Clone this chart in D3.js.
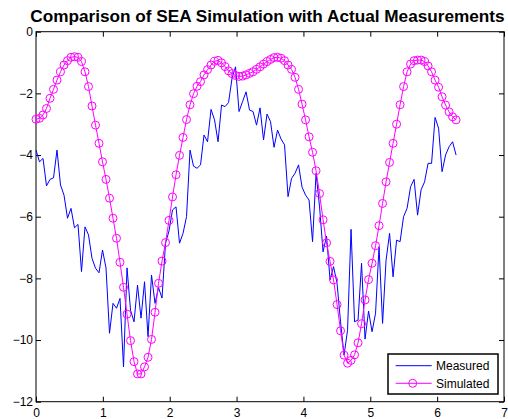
<!DOCTYPE html>
<html>
<head>
<meta charset="utf-8">
<script src="https://cdn.jsdelivr.net/npm/d3@7"></script>
<style>
  html, body { margin: 0; padding: 0; background: #ffffff; }
  svg { display: block; font-family: "Liberation Sans", Arial, Helvetica, sans-serif; }
</style>
</head>
<body>
<svg id="chart" width="508" height="419"></svg>
<script>
// Chart text
const chartTitle = "Comparison of SEA Simulation with Actual Measurements";
const seriesNames = ["Measured", "Simulated"];

// Axis ticks
const xTicks = [0, 1, 2, 3, 4, 5, 6, 7];
const yTicks = [-12, -10, -8, -6, -4, -2, 0];

// Measured response, 121 samples over one full turn (0 .. 2π)
const measured = [
  -3.84, -4.22, -4.11, -5.00, -4.79, -4.74, -3.84, -4.97, -5.30, -6.05,
  -5.73, -6.36, -6.25, -7.78, -6.33, -6.59, -7.35, -7.67, -7.82, -7.08,
  -7.66, -9.78, -8.81, -8.97, -8.65, -10.87, -7.66, -9.03, -9.41, -8.22,
  -9.29, -8.11, -9.89, -7.89, -8.81, -8.30, -8.64, -6.86, -6.46, -5.78,
  -5.68, -6.86, -6.54, -6.00, -3.84, -4.36, -4.43, -4.32, -3.35, -3.57,
  -2.52, -2.86, -3.57, -2.38, -2.43, -2.30, -1.51, -1.14, -2.59, -2.27,
  -1.95, -2.54, -2.59, -3.03, -2.47, -3.51, -2.67, -2.92, -3.75, -3.19,
  -3.48, -3.67, -5.35, -4.76, -4.59, -4.32, -5.04, -5.30, -5.46, -6.81,
  -4.59, -5.68, -7.14, -6.63, -8.05, -7.62, -8.16, -9.41, -10.49, -9.68,
  -6.41, -9.41, -9.35, -7.51, -9.97, -9.06, -9.73, -9.13, -6.97, -9.46,
  -7.41, -6.54, -7.95, -6.76, -6.81, -6.00, -5.73, -5.03, -4.79, -5.95,
  -5.13, -4.87, -4.27, -4.27, -2.78, -3.13, -4.54, -4.00, -3.73, -3.57,
  -4.00
];

// Simulated response on the same 121 samples
const simulated = [
  -2.84, -2.81, -2.70, -2.49, -2.16, -1.87, -1.57, -1.30, -1.08, -0.94,
  -0.83, -0.81, -0.83, -0.97, -1.30, -1.78, -2.41, -3.03, -3.62, -4.22,
  -4.79, -5.40, -6.05, -6.70, -7.48, -8.29, -9.16, -10.02, -10.70, -11.10,
  -11.10, -10.87, -10.56, -9.98, -9.10, -8.16, -7.44, -6.84, -6.12, -5.36,
  -4.64, -4.01, -3.43, -2.85, -2.37, -2.01, -1.77, -1.62, -1.40, -1.23,
  -1.08, -0.96, -0.93, -1.01, -1.13, -1.27, -1.36, -1.42, -1.45, -1.44,
  -1.40, -1.35, -1.30, -1.22, -1.14, -1.05, -0.97, -0.90, -0.84, -0.83,
  -0.86, -0.94, -1.08, -1.22, -1.48, -1.87, -2.35, -2.86, -3.41, -3.91,
  -4.51, -5.25, -6.10, -6.85, -7.45, -8.05, -8.85, -9.70, -10.49, -10.75,
  -10.66, -10.48, -10.09, -9.47, -8.70, -8.04, -7.51, -6.94, -6.29, -5.57,
  -4.87, -4.24, -3.62, -3.00, -2.37, -1.78, -1.30, -1.05, -0.94, -0.92,
  -0.92, -0.97, -1.11, -1.30, -1.57, -1.80, -2.11, -2.38, -2.60, -2.76,
  -2.86
];

// Sample angles, evenly spaced from 0 to 2π
const sampleX = d3.range(measured.length).map(i => i * 2 * Math.PI / (measured.length - 1));

const colors = { measured: "#0000ff", simulated: "#ff00ff" };

const svg = d3.select("#chart");
const plotLeft = 36, plotRight = 504, plotTop = 31.7, plotBottom = 401.7;

const x = d3.scaleLinear().domain([0, 7]).range([plotLeft, plotRight]);
const y = d3.scaleLinear().domain([-12, 0]).range([plotBottom, plotTop]);

svg.append("rect").attr("width", 508).attr("height", 419).attr("fill", "#ffffff");

// Title
svg.append("text")
  .attr("x", 267.5)
  .attr("y", 22)
  .attr("text-anchor", "middle")
  .attr("font-weight", "bold")
  .attr("font-size", "17.2px")
  .attr("fill", "#000")
  .text(chartTitle);

// Axes with inward ticks on all four sides
const fmt = d3.format("d");
const tickLen = 5;

function styleAxis(g, showLabels) {
  g.select(".domain").remove();
  g.selectAll(".tick line").attr("stroke", "#000").attr("stroke-width", 1);
  g.selectAll(".tick text").attr("font-size", "12px").attr("fill", "#000");
  if (!showLabels) g.selectAll(".tick text").remove();
}

svg.append("g")
  .attr("transform", `translate(0,${plotBottom})`)
  .call(d3.axisBottom(x).tickValues(xTicks).tickFormat(fmt).tickSize(-tickLen).tickPadding(7))
  .call(g => styleAxis(g, true));

svg.append("g")
  .attr("transform", `translate(0,${plotTop})`)
  .call(d3.axisTop(x).tickValues(xTicks).tickSize(-tickLen))
  .call(g => styleAxis(g, false));

svg.append("g")
  .attr("transform", `translate(${plotLeft},0)`)
  .call(d3.axisLeft(y).tickValues(yTicks).tickFormat(fmt).tickSize(-tickLen).tickPadding(3))
  .call(g => styleAxis(g, true));

svg.append("g")
  .attr("transform", `translate(${plotRight},0)`)
  .call(d3.axisRight(y).tickValues(yTicks).tickSize(-tickLen))
  .call(g => styleAxis(g, false));

// Plot box
svg.append("rect")
  .attr("x", plotLeft).attr("y", plotTop)
  .attr("width", plotRight - plotLeft).attr("height", plotBottom - plotTop)
  .attr("fill", "none").attr("stroke", "#000").attr("stroke-width", 1);

const line = d3.line().x(d => x(d[0])).y(d => y(d[1]));

// Measured trace
svg.append("path")
  .datum(sampleX.map((v, i) => [v, measured[i]]))
  .attr("d", line)
  .attr("fill", "none")
  .attr("stroke", colors.measured)
  .attr("stroke-width", 1);

// Simulated trace with circle markers
const simPts = sampleX.map((v, i) => [v, simulated[i]]);
svg.append("path")
  .datum(simPts)
  .attr("d", line)
  .attr("fill", "none")
  .attr("stroke", colors.simulated)
  .attr("stroke-width", 1);

svg.append("g").selectAll("circle")
  .data(simPts)
  .join("circle")
  .attr("cx", d => x(d[0]))
  .attr("cy", d => y(d[1]))
  .attr("r", 4)
  .attr("fill", "none")
  .attr("stroke", colors.simulated)
  .attr("stroke-width", 1);

// Legend
const lg = svg.append("g").attr("transform", "translate(388,354)");
lg.append("rect")
  .attr("width", 110).attr("height", 40)
  .attr("fill", "#ffffff").attr("stroke", "#000").attr("stroke-width", 1.5);

const rows = [
  { name: seriesNames[0], color: colors.measured, marker: false, cy: 11.7 },
  { name: seriesNames[1], color: colors.simulated, marker: true, cy: 29.3 }
];
rows.forEach(r => {
  lg.append("line")
    .attr("x1", 7.7).attr("x2", 43.7)
    .attr("y1", r.cy).attr("y2", r.cy)
    .attr("stroke", r.color).attr("stroke-width", 1);
  if (r.marker) {
    lg.append("circle")
      .attr("cx", 24.7).attr("cy", r.cy).attr("r", 4)
      .attr("fill", "none").attr("stroke", r.color).attr("stroke-width", 1);
  }
  lg.append("text")
    .attr("x", 48).attr("y", r.cy + 4.3)
    .attr("font-size", "12px").attr("fill", "#000")
    .text(r.name);
});
</script>
</body>
</html>
